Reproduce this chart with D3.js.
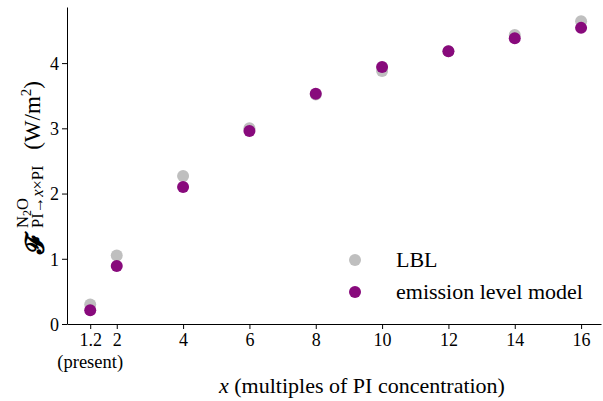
<!DOCTYPE html>
<html>
<head>
<script src="https://d3js.org/d3.v7.min.js"></script>
<style>
  body { margin: 0; background: #fff; }
  text { font-family: "Liberation Serif", "DejaVu Serif", serif; }
</style>
</head>
<body>
<svg id="mainsvg"></svg>
<script>
// data
const xs = [1.2, 2, 4, 6, 8, 10, 12, 14, 16];
const lbl = [0.30, 1.05, 2.27, 3.00, 3.52, 3.88, 4.18, 4.43, 4.64];
const emission = [0.21, 0.89, 2.10, 2.96, 3.53, 3.94, 4.18, 4.38, 4.54];
const xTicks = [1.2, 2, 4, 6, 8, 10, 12, 14, 16];
const yTicks = [0, 1, 2, 3, 4];

const width = 603, height = 401;
const margin = { top: 7, right: 2, bottom: 77, left: 67 };

const svg = d3.select("#mainsvg")
    .attr("width", width)
    .attr("height", height);

const x = d3.scaleLinear([0.5, 16.6], [margin.left, width - margin.right]);
const y = d3.scaleLinear([0, 4.86], [height - margin.bottom, margin.top]);

// axes
const xAxis = svg.append("g")
    .attr("transform", `translate(0,${height - margin.bottom})`)
    .call(d3.axisBottom(x).tickValues(xTicks).tickFormat(d => d).tickSize(5).tickSizeOuter(0));
const yAxis = svg.append("g")
    .attr("transform", `translate(${margin.left},0)`)
    .call(d3.axisLeft(y).tickValues(yTicks).tickFormat(d3.format("d")).tickSize(5).tickSizeOuter(0));

[xAxis, yAxis].forEach(g => {
    g.attr("font-family", null).attr("font-size", null);
    g.selectAll("text").style("font-size", "18px").attr("fill", "#000");
    g.selectAll("line").attr("stroke", "#000");
    g.select(".domain").attr("stroke", "#000");
});
xAxis.selectAll("text").attr("y", 8).attr("dy", "0.8em");
yAxis.selectAll("text").attr("x", -8).attr("dy", "0.35em");

svg.append("text")
    .attr("x", x(1.2))
    .attr("y", height - margin.bottom + 44)
    .attr("text-anchor", "middle")
    .style("font-size", "18.5px")
    .text("(present)");

// points
const series = [
    { name: "LBL", values: lbl, color: "#bfbfbf" },
    { name: "emission level model", values: emission, color: "#880a7c" }
];

series.forEach(s => {
    svg.append("g").selectAll("circle")
        .data(xs.map((d, i) => [d, s.values[i]]))
        .join("circle")
        .attr("cx", d => x(d[0]))
        .attr("cy", d => y(d[1]))
        .attr("r", 6)
        .attr("fill", s.color);
});

// legend
const legend = svg.append("g").attr("transform", "translate(355,260)");
series.forEach((s, i) => {
    legend.append("circle").attr("cx", 0).attr("cy", i * 32).attr("r", 6).attr("fill", s.color);
    legend.append("text")
        .attr("x", 41).attr("y", i * 32).attr("dy", "0.33em")
        .style("font-size", "22px")
        .text(s.name);
});

// x label
const xl = svg.append("text")
    .attr("x", 362).attr("y", 393)
    .attr("text-anchor", "middle")
    .style("font-size", "22px");
xl.append("tspan").style("font-style", "italic").text("x");
xl.append("tspan").text(" (multiples of PI concentration)");

// y label
const yl = svg.append("g").attr("transform", "translate(40,166) rotate(-90)");
yl.append("text").attr("x", -88).attr("y", 3)
    .style("font-family", "'DejaVu Serif', 'DejaVu Sans', serif")
    .style("font-weight", "bold")
    .style("font-size", "25px").text("𝓕");
const sup = yl.append("text").attr("x", -62).attr("y", -12).style("font-size", "16.5px");
sup.append("tspan").text("N");
sup.append("tspan").attr("dy", 3).style("font-size", "12px").text("2");
sup.append("tspan").attr("dy", -3).text("O");
const sub = yl.append("text").attr("x", -62).attr("y", 3).style("font-size", "16.5px");
sub.append("tspan").text("PI→");
sub.append("tspan").style("font-style", "italic").text("x");
sub.append("tspan").text("×PI");
yl.append("text").attr("x", 85).attr("y", 0)
    .attr("text-anchor", "end")
    .style("font-size", "23px")
    .html("(W/m<tspan dy='-9' font-size='15'>2</tspan><tspan dy='9'>)</tspan>");
</script>
</body>
</html>
